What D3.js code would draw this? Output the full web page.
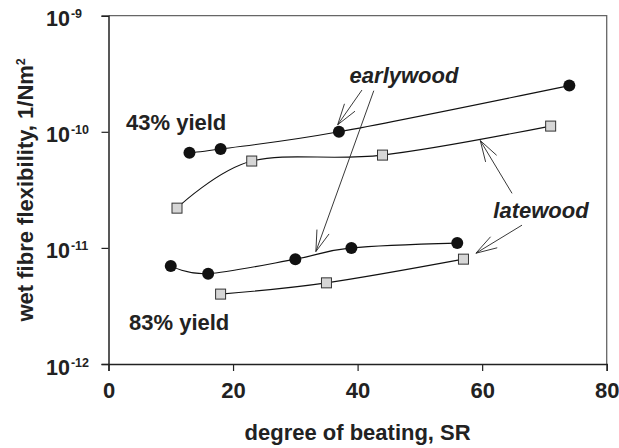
<!DOCTYPE html>
<html>
<head>
<meta charset="utf-8">
<script src="https://cdn.jsdelivr.net/npm/d3@7"></script>
<style>
  body { margin: 0; background: #fff; }
  text { font-family: "Liberation Sans", Arial, sans-serif; font-weight: bold; fill: #222; }
</style>
</head>
<body>
<div id="container"></div>
<script>
width = 619;
height = 448;
margin = {top: 15.7, right: 12.3, bottom: 84, left: 108.5};

// degree of beating (SR) and wet fibre flexibility (1/Nm^2)
const ew43X = [13, 18, 37, 74];
const ew43Y = [6.6e-11, 7.1e-11, 1.0e-10, 2.5e-10];
const lw43X = [11, 23, 44, 71];
const lw43Y = [2.2e-11, 5.6e-11, 6.3e-11, 1.12e-10];
const ew83X = [10, 16, 30, 39, 56];
const ew83Y = [7.0e-12, 6.0e-12, 8.0e-12, 1.0e-11, 1.1e-11];
const lw83X = [18, 35, 57];
const lw83Y = [4.0e-12, 5.0e-12, 8.0e-12];

const xTicks = [0, 20, 40, 60, 80];
const yTicks = [1e-12, 1e-11, 1e-10, 1e-9];
const yTickExp = ["-12", "-11", "-10", "-9"];

// annotation arrows, [fromX, fromY, tipX, tipY] in data units
const arrows = [
    [40.7, 2.29e-10, 36.8, 1.15e-10],
    [42.6, 2.26e-10, 33.3, 9.3e-12],
    [64.8, 2.95e-11, 59.7, 8.4e-11],
    [66.4, 1.57e-11, 59.0, 9.0e-12]
];

const x = d3.scaleLinear().domain([0, 80]).range([margin.left, width - margin.right]);
const y = d3.scaleLog().domain([1e-12, 1e-9]).range([height - margin.bottom, margin.top]);

const svg = d3.select("#container").append("svg")
    .attr("width", width)
    .attr("height", height);

// frame on top and right
svg.append("path")
    .attr("d", `M${x(0)},${y(1e-9)}H${x(80)}V${y(1e-12)}`)
    .attr("fill", "none")
    .attr("stroke", "#666")
    .attr("stroke-width", 1.3);

const xAxis = svg.append("g")
    .attr("transform", `translate(0,${y(1e-12)})`)
    .call(d3.axisBottom(x).tickValues(xTicks).tickSize(7).tickPadding(5));
xAxis.select(".domain").attr("stroke", "#222").attr("stroke-width", 1.5);
xAxis.selectAll(".tick line").attr("stroke", "#222").attr("stroke-width", 1.2);
xAxis.selectAll(".tick text")
    .attr("font-size", 22)
    .attr("font-family", null)
    .attr("fill", "#222")
    .attr("dy", "1em");

const yAxis = svg.append("g")
    .attr("transform", `translate(${x(0)},0)`)
    .call(d3.axisLeft(y).tickValues(yTicks).tickSize(7).tickFormat(""));
yAxis.select(".domain").attr("stroke", "#222").attr("stroke-width", 1.5);
yAxis.selectAll(".tick line").attr("stroke", "#222").attr("stroke-width", 1.2);

yAxis.selectAll(".tick").each(function (d, i) {
    const t = d3.select(this).append("text")
        .attr("x", 46 - x(0))
        .attr("y", 10)
        .attr("text-anchor", "start")
        .attr("font-size", 21.5)
        .attr("font-family", null)
        .attr("fill", "#222");
    t.append("tspan").text("10");
    t.append("tspan").attr("dy", -8).attr("dx", 1).attr("font-size", 12.5).text(yTickExp[i]);
});

// axis titles
svg.append("text")
    .attr("x", (x(0) + x(80)) / 2)
    .attr("y", 440)
    .attr("text-anchor", "middle")
    .attr("font-size", 22)
    .text("degree of beating, SR");

const yTitle = svg.append("text")
    .attr("transform", `translate(33,${(y(1e-12) + y(1e-9)) / 2}) rotate(-90)`)
    .attr("text-anchor", "middle")
    .attr("font-size", 22);
yTitle.append("tspan").text("wet fibre flexibility, 1/Nm");
yTitle.append("tspan").attr("dy", -8).attr("font-size", 12.5).text("2");

// smoothed series lines
const line = d3.line()
    .x(d => x(d[0]))
    .y(d => y(d[1]))
    .curve(d3.curveCardinal.tension(0));

const series = [
    {xs: ew43X, ys: ew43Y, type: "circle"},
    {xs: lw43X, ys: lw43Y, type: "square"},
    {xs: ew83X, ys: ew83Y, type: "circle"},
    {xs: lw83X, ys: lw83Y, type: "square"}
];

series.forEach(s => {
    const pts = s.xs.map((v, i) => [v, s.ys[i]]);
    svg.append("path")
        .datum(pts)
        .attr("d", line)
        .attr("fill", "none")
        .attr("stroke", "#111")
        .attr("stroke-width", 1.1);
});

series.forEach(s => {
    const pts = s.xs.map((v, i) => [v, s.ys[i]]);
    if (s.type === "circle") {
        svg.append("g").selectAll("circle")
            .data(pts)
            .join("circle")
            .attr("cx", d => x(d[0]))
            .attr("cy", d => y(d[1]))
            .attr("r", 6)
            .attr("fill", "#111");
    } else {
        svg.append("g").selectAll("rect")
            .data(pts)
            .join("rect")
            .attr("x", d => x(d[0]) - 5)
            .attr("y", d => y(d[1]) - 5)
            .attr("width", 10)
            .attr("height", 10)
            .attr("fill", "#d6d6d6")
            .attr("stroke", "#333")
            .attr("stroke-width", 1);
    }
});

// arrows with open heads
const headLen = 22;
const headAng = 17 * Math.PI / 180;
arrows.forEach(a => {
    const x0 = x(a[0]), y0 = y(a[1]), x1 = x(a[2]), y1 = y(a[3]);
    const ang = Math.atan2(y0 - y1, x0 - x1);
    let d = `M${x0},${y0}L${x1},${y1}`;
    [-headAng, headAng].forEach(o => {
        d += `M${x1},${y1}L${x1 + headLen * Math.cos(ang + o)},${y1 + headLen * Math.sin(ang + o)}`;
    });
    svg.append("path")
        .attr("d", d)
        .attr("fill", "none")
        .attr("stroke", "#222")
        .attr("stroke-width", 0.9);
});

// annotation labels
svg.append("text").attr("x", 404).attr("y", 83).attr("text-anchor", "middle")
    .attr("font-size", 22).attr("font-style", "italic").text("earlywood");
svg.append("text").attr("x", 541).attr("y", 218).attr("text-anchor", "middle")
    .attr("font-size", 22).attr("font-style", "italic").text("latewood");
svg.append("text").attr("x", 126).attr("y", 130)
    .attr("font-size", 22).text("43% yield");
svg.append("text").attr("x", 129).attr("y", 329.5)
    .attr("font-size", 22).text("83% yield");
</script>
</body>
</html>
